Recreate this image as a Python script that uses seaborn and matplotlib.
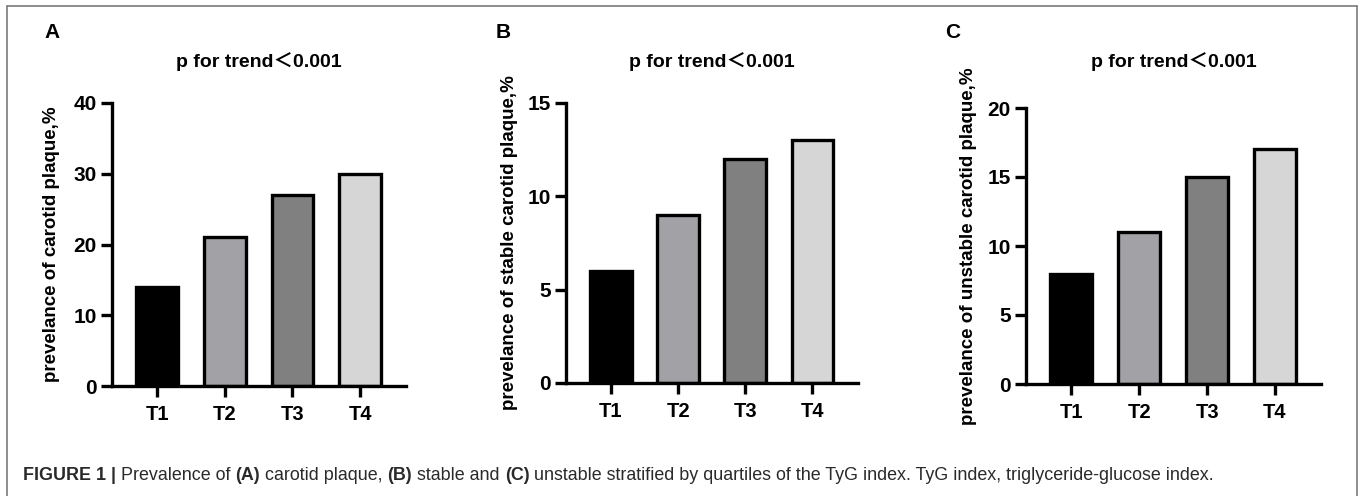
import matplotlib
matplotlib.use("Agg")
import matplotlib.pyplot as plt
import matplotlib.transforms as mtransforms
from matplotlib.lines import Line2D
import seaborn as sns
import pandas as pd

sns.set_theme(style="ticks")
plt.rcParams['font.family'] = ['Liberation Sans', 'Noto Sans CJK SC', 'DejaVu Sans']

# ---- data ----
categories = ["T1", "T2", "T3", "T4"]
values_a = [14, 21, 27, 30]
values_b = [6, 9, 12, 13]
values_c = [8, 11, 15, 17]
bar_colors = ["#000000", "#a2a2a6", "#808080", "#d6d6d6"]
ylabels = ["prevelance of carotid plaque,%",
           "prevelance of stable carotid plaque,%",
           "prevelance of unstable carotid plaque,%"]
panel_letters = ["A", "B", "C"]
title_text = "p for trend\uff1c0.001"
ylims = [40, 15, 20]
yticks = [[0, 10, 20, 30, 40], [0, 5, 10, 15], [0, 5, 10, 15, 20]]
caption_parts = [("FIGURE 1 | ", "bold"), ("Prevalence of ", "normal"), ("(A)", "bold"),
                 (" carotid plaque, ", "normal"), ("(B)", "bold"), (" stable and ", "normal"),
                 ("(C)", "bold"),
                 (" unstable stratified by quartiles of the TyG index. TyG index, triglyceride-glucose index.", "normal")]

W, H = 1360, 496
fig = plt.figure(figsize=(W / 100, H / 100), dpi=100)

# axes rectangles in pixels (left, right, top, bottom) measured from top
rects = [(112, 406, 103, 386), (566, 858, 103, 383), (1026, 1321, 108, 384)]
label_x = [-0.177, -0.164, -0.166]
letter_pos = [(52, 33), (503, 33), (953, 33)]

lw = 2.4
for i, vals in enumerate([values_a, values_b, values_c]):
    l, r, t, b = rects[i]
    ax = fig.add_axes([l / W, 1 - b / H, (r - l) / W, (b - t) / H])
    df = pd.DataFrame({"cat": categories, "val": vals})
    sns.barplot(data=df, x="cat", y="val", hue="cat", palette=bar_colors,
                width=0.62, edgecolor="black", linewidth=lw, saturation=1,
                legend=False, ax=ax)
    ax.set_xlim(-0.67, 3.68)
    ax.set_ylim(0, ylims[i])
    ax.set_yticks(yticks[i])
    for s in ["top", "right"]:
        ax.spines[s].set_visible(False)
    for s in ["left", "bottom"]:
        ax.spines[s].set_linewidth(lw)
        ax.spines[s].set_color("black")
        ax.spines[s].set_capstyle("projecting")
    ax.tick_params(axis="both", length=8, width=lw, color="black", direction="out")
    ax.tick_params(axis="y", pad=3, labelsize=15)
    ax.tick_params(axis="x", pad=5.5, labelsize=14.5)
    for lab in ax.get_xticklabels() + ax.get_yticklabels():
        lab.set_fontweight("bold")
        lab.set_color("black")
    ax.set_xlabel("")
    ax.set_ylabel(ylabels[i], fontsize=13.5, fontweight="bold", color="black")
    ax.yaxis.set_label_coords(label_x[i], 0.5)
    ax.set_facecolor("none")
    trans = mtransforms.blended_transform_factory(ax.transAxes, fig.transFigure)
    ax.text(0.5, 1 - 62 / H, title_text, transform=trans, ha="center", va="center",
            fontsize=14, fontweight="bold", color="black")
    fig.text(letter_pos[i][0] / W, 1 - letter_pos[i][1] / H, panel_letters[i],
             ha="center", va="center", fontsize=15, fontweight="bold", color="black")

# border box (top, left, right)
border_kw = dict(color="#7a7a7a", linewidth=1.2, transform=fig.transFigure)
fig.add_artist(Line2D([7 / W, 1357 / W], [1 - 6 / H, 1 - 6 / H], **border_kw))
fig.add_artist(Line2D([7 / W, 7 / W], [1 - 6 / H, 0], **border_kw))
fig.add_artist(Line2D([1357 / W, 1357 / W], [1 - 6 / H, 0], **border_kw))

# caption
renderer = fig.canvas.get_renderer()
x = 23
cap_y = 1 - 480 / H
for txt, wt in caption_parts:
    t = fig.text(x / W, cap_y, txt, ha="left", va="baseline", fontsize=12.9,
                 fontweight=wt, color="#2a2a2a")
    bb = t.get_window_extent(renderer=renderer)
    x += bb.width

fig.savefig("out.png", dpi=100)
